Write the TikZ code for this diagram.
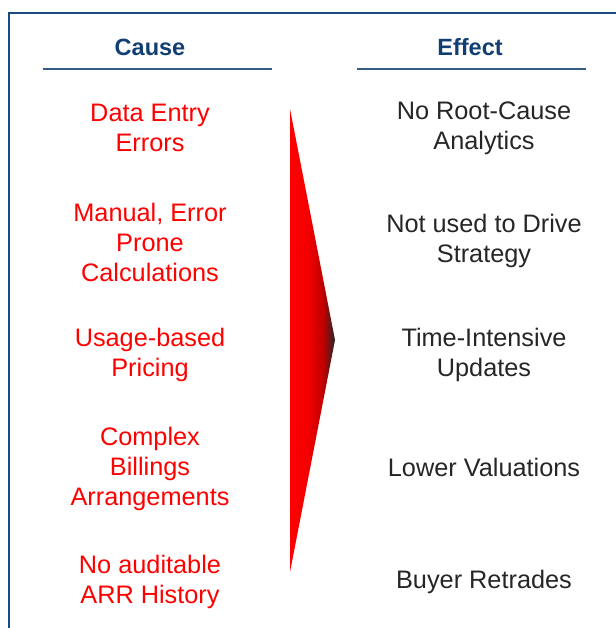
\documentclass[tikz,border=0pt]{standalone}
\usepackage{fontspec}
\setmainfont{Liberation Sans}
\usepackage{xcolor}
\usepackage{tikz}
\usetikzlibrary{positioning, calc}
\definecolor{frameblue}{HTML}{1A4A80}
\definecolor{headblue}{HTML}{123F73}
\definecolor{causered}{HTML}{FF0000}
\definecolor{effectgray}{HTML}{262626}
\pgfdeclarehorizontalshading{redfade}{100bp}{color(0bp)=(causered); color(25bp)=(causered);
  color(45bp)=(causered!95!black); color(62bp)=(causered!75!black);
  color(75bp)=(black!85); color(100bp)=(black!85)}

\begin{document}
\begin{tikzpicture}[x=1pt, y=-1pt,
  head/.style={font=\fontsize{23.5}{28}\selectfont\bfseries, text=headblue, inner sep=0pt},
  rule/.style={headblue!85, line width=1.4pt},
  cause/.style={align=center, text=causered, inner sep=0pt,
                font=\fontsize{25.3}{30}\selectfont},
  effect/.style={align=center, text=effectgray, inner sep=0pt,
                 font=\fontsize{25.3}{30}\selectfont},
]
  \useasboundingbox (0,0) rectangle (615,628);

  % open frame: left side and top only
  \draw[frameblue, line width=2.2pt] (9,640) -- (9,13) -- (630,13);

  % column headings
  \node[head] (cause) at (150,47) {Cause};
  \node[head] (effect) at (470,47) {Effect};
  \coordinate (cl1) at (43,69);  \coordinate (cl2) at (272,69);
  \coordinate (el1) at (357,69); \coordinate (el2) at (586,69);
  \draw[rule] (cl1) -- (cl2);
  \draw[rule] (el1) -- (el2);

  % shaded wedge between the columns
  \coordinate (wtop) at (290,109);
  \coordinate (wtip) at (335,340);
  \coordinate (wbot) at (290,572);
  \shade[shading=redfade] (wtop) -- (wtip) -- (wbot) -- cycle;

  % causes
  \node[cause] (c1) at (150,128) {Data Entry\\Errors};
  \node[cause] (c2) at (150,242) {Manual, Error\\Prone\\Calculations};
  \node[cause] (c3) at (150,355) {Usage-based\\Pricing};
  \node[cause] (c4) at (150,469) {Complex\\Billings\\Arrangements};
  \node[cause] (c5) at (150,582) {No auditable\\ARR History};

  % effects
  \node[effect] (e1) at (484,128) {No Root-Cause\\Analytics};
  \node[effect] (e2) at (484,241) {Not used to Drive\\Strategy};
  \node[effect] (e3) at (484,355) {Time-Intensive\\Updates};
  \node[effect] (e4) at (484,467) {Lower Valuations};
  \node[effect] (e5) at (484,582) {Buyer Retrades};
\end{tikzpicture}
\end{document}
